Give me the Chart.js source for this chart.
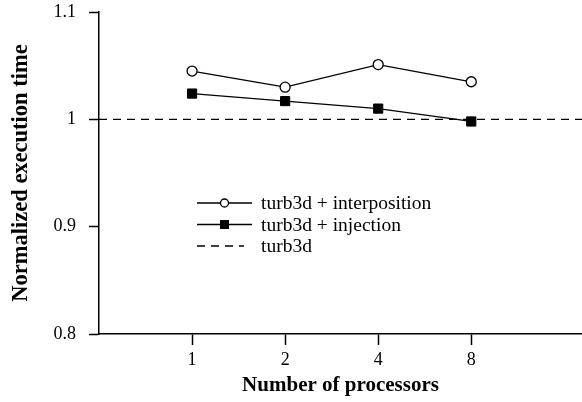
<!DOCTYPE html>
<html>
<head>
<meta charset="utf-8">
<script src="https://cdn.jsdelivr.net/npm/chart.js@4/dist/chart.umd.min.js"></script>
<style>
  html, body { margin: 0; padding: 0; background: #fff; overflow: hidden; }
  #wrap { width: 582px; height: 402px; position: relative; }
</style>
</head>
<body>
<div id="wrap"><canvas id="chart"></canvas></div>
<script>
const processors = ['1', '2', '4', '8'];
const interposition = [1.045, 1.030, 1.051, 1.035];
const injection = [1.024, 1.017, 1.010, 0.998];
const baseline = 1;
const yTicks = [0.8, 0.9, 1, 1.1];

const FONT = "'Liberation Serif', 'DejaVu Serif', serif";
const xMax = 5.19;

// positions 1..4 on a linear axis, labelled by processor count
const toPoints = vals => vals.map((v, i) => ({ x: i + 1, y: v }));

// legend drawn inside the plot, like the original figure
const insideLegend = {
  id: 'insideLegend',
  afterDraw(chart) {
    const ctx = chart.ctx;
    const rows = [
      { label: 'turb3d + interposition', marker: 'circle' },
      { label: 'turb3d + injection', marker: 'square' },
      { label: 'turb3d', marker: 'dash' }
    ];
    const x0 = 197, x1 = 252, tx = 261;
    let y = 203;
    ctx.save();
    ctx.strokeStyle = '#000';
    ctx.fillStyle = '#000';
    ctx.lineWidth = 1.3;
    ctx.font = '19.5px ' + FONT;
    ctx.textBaseline = 'middle';
    rows.forEach(r => {
      ctx.beginPath();
      if (r.marker === 'dash') {
        ctx.setLineDash([8, 6]);
        ctx.moveTo(x0, y);
        ctx.lineTo(x1 - 8, y);
        ctx.stroke();
        ctx.setLineDash([]);
      } else {
        ctx.moveTo(x0, y);
        ctx.lineTo(x1, y);
        ctx.stroke();
        const mx = (x0 + x1) / 2;
        if (r.marker === 'circle') {
          ctx.beginPath();
          ctx.arc(mx, y, 4, 0, Math.PI * 2);
          ctx.fillStyle = '#fff';
          ctx.fill();
          ctx.stroke();
          ctx.fillStyle = '#000';
        } else {
          ctx.fillRect(mx - 4.5, y - 4.5, 9, 9);
        }
      }
      ctx.fillText(r.label, tx, y + 1);
      y += 21.5;
    });
    ctx.restore();
  }
};

new Chart(document.getElementById('chart'), {
  type: 'line',
  data: {
    datasets: [
      {
        label: 'turb3d',
        data: [{ x: 0, y: baseline }, { x: xMax, y: baseline }],
        borderColor: '#000',
        borderWidth: 1.3,
        borderDash: [8, 6],
        pointRadius: 0
      },
      {
        label: 'turb3d + interposition',
        data: toPoints(interposition),
        borderColor: '#000',
        borderWidth: 1.3,
        pointStyle: 'circle',
        pointRadius: 5,
        pointBackgroundColor: '#fff',
        pointBorderColor: '#000',
        pointBorderWidth: 1.3
      },
      {
        label: 'turb3d + injection',
        data: toPoints(injection),
        borderColor: '#000',
        borderWidth: 1.3,
        pointStyle: 'rect',
        pointRadius: 6.5,
        pointBackgroundColor: '#000',
        pointBorderColor: '#000',
        pointBorderWidth: 1
      }
    ]
  },
  options: {
    responsive: true,
    maintainAspectRatio: false,
    animation: false,
    layout: { autoPadding: false, padding: { top: 12, right: 0, left: 0, bottom: 0 } },
    plugins: {
      legend: { display: false },
      tooltip: { enabled: false }
    },
    scales: {
      x: {
        type: 'linear',
        min: 0,
        max: xMax,
        afterBuildTicks: axis => {
          axis.ticks = processors.map((_, i) => ({ value: i + 1 }));
        },
        afterFit: axis => {
          axis.height = 68;
          axis.paddingLeft = 0;
          axis.paddingRight = 0;
        },
        ticks: {
          callback: v => processors[v - 1],
          color: '#000',
          font: { family: FONT, size: 18 },
          padding: 4,
          maxRotation: 0
        },
        grid: { drawOnChartArea: false, tickLength: 11, tickColor: '#000', tickWidth: 1.5 },
        border: { color: '#000', width: 1.5 },
        title: {
          display: true,
          text: 'Number of processors',
          color: '#000',
          font: { family: FONT, size: 21, weight: 'bold' },
          padding: { top: 0 }
        }
      },
      y: {
        min: 0.8,
        max: 1.1,
        afterBuildTicks: axis => {
          axis.ticks = yTicks.map(v => ({ value: v }));
        },
        afterFit: axis => {
          axis.width = 99;
          axis.paddingTop = 0;
          axis.paddingBottom = 0;
        },
        ticks: {
          callback: v => String(v),
          color: '#000',
          font: { family: FONT, size: 18 },
          padding: 13
        },
        grid: { drawOnChartArea: false, tickLength: 10, tickColor: '#000', tickWidth: 1.5 },
        border: { color: '#000', width: 1.5 },
        title: {
          display: true,
          text: 'Normalized execution time',
          color: '#000',
          font: { family: FONT, size: 22.5, weight: 'bold' },
          padding: { top: 8, bottom: 0 }
        }
      }
    }
  },
  plugins: [insideLegend]
});
</script>
</body>
</html>
